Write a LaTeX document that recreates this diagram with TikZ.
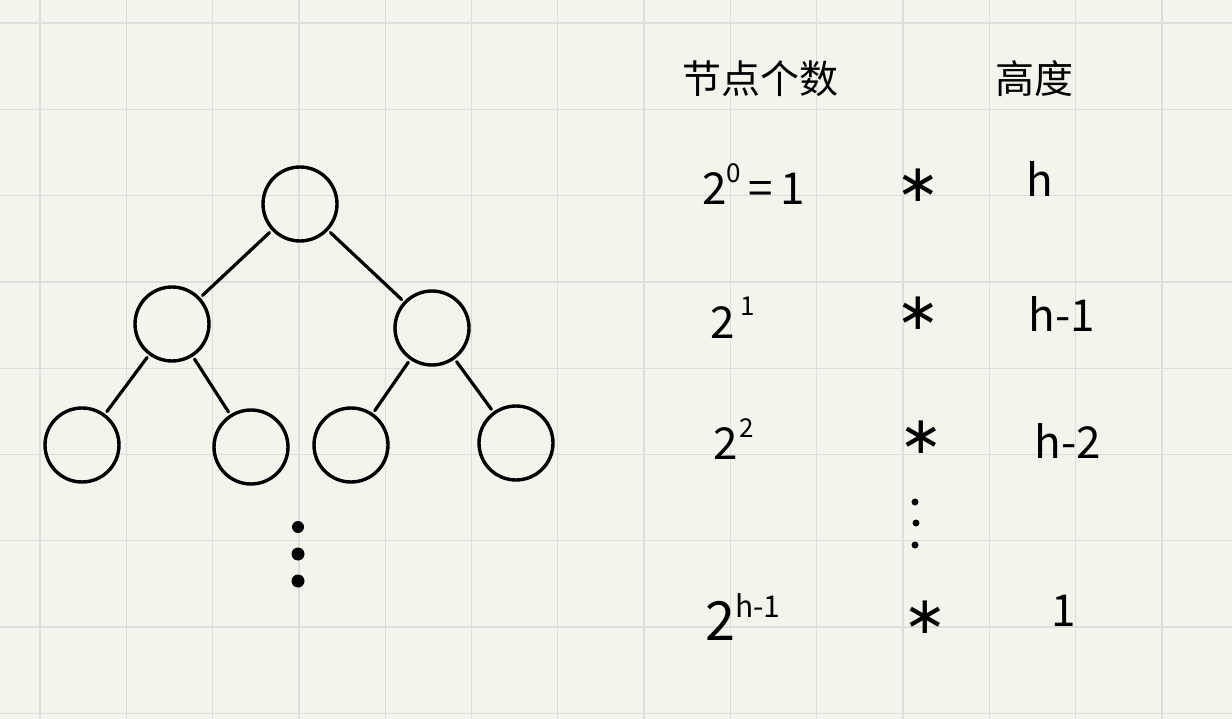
\documentclass[tikz,border=0pt]{standalone}
\usepackage{fontspec}
\setmainfont{Noto Sans CJK SC}
\newfontfamily\djv{DejaVu Sans}
\definecolor{paper}{RGB}{244,243,236}
\definecolor{gridc}{RGB}{221,221,219}
\tikzset{
  tnode/.style={circle,draw=black,line width=3.4pt,minimum size=74pt,inner sep=0pt},
  tedge/.style={line width=3.2pt,line cap=round,shorten <=3pt,shorten >=3pt},
  hw/.style={inner sep=0pt,anchor=base,font=\fontsize{44}{44}\selectfont},
  hdr/.style={inner sep=0pt,anchor=base,font=\fontsize{39}{39}\selectfont},
  star/.style={inner sep=0pt,font=\djv\fontsize{52}{52}\selectfont},
  dotc/.style={circle,fill=black,inner sep=0pt,minimum size=#1}
}
\newcommand{\sps}[1]{\raisebox{0.5em}{\fontsize{26}{26}\selectfont #1}}
\begin{document}
\begin{tikzpicture}[x=1pt,y=-1pt]
\fill[paper] (0,0) rectangle (1232,719);
\useasboundingbox (0,0) rectangle (1232,719);
% grid
\foreach \i in {0,...,13} {
  \draw[gridc,line width=1.3pt] ({40+86.3*\i},0) -- ({40+86.3*\i},719);
}
\foreach \j in {0,...,8} {
  \draw[gridc,line width=1.3pt] (0,{23+86.3*\j}) -- (1232,{23+86.3*\j});
}
% tree
\node[tnode] (r) at (300,204) {};
\node[tnode] (a) at (172,324) {};
\node[tnode] (b) at (432,328) {};
\node[tnode] (c) at (82,445) {};
\node[tnode] (d) at (251,447) {};
\node[tnode] (e) at (351,445) {};
\node[tnode] (f) at (516,443) {};
\draw[tedge] (r) -- (a);
\draw[tedge] (r) -- (b);
\draw[tedge] (a) -- (c);
\draw[tedge] (a) -- (d);
\draw[tedge] (b) -- (e);
\draw[tedge] (b) -- (f);
\node[dotc=12pt] (t1) at (298,527) {};
\node[dotc=13pt] (t2) at (298,554) {};
\node[dotc=13pt] (t3) at (298,581) {};
% headers
\node[hdr] (h1) at (760,94) {节点个数};
\node[hdr] (h2) at (1034,94) {高度};
% rows
\node[hw,anchor=base west] (n0) at (702,205) {2\sps{0}\,=\,1};
\node[star] (s0) at (918,185) {∗};
\node[hw] (g0) at (1040,197) {h};

\node[hw,anchor=base west] (n1) at (710,338) {2\hspace{6pt}\sps{1}};
\node[star] (s1) at (918,313) {∗};
\node[hw] (g1) at (1062,332) {h-1};

\node[hw,anchor=base west] (n2) at (713,459) {2\hspace{2pt}\sps{2}};
\node[star] (s2) at (921,437) {∗};
\node[hw] (g2) at (1068,458) {h-2};

\node[dotc=7pt] (v1) at (915,502) {};
\node[dotc=7pt] (v2) at (916,523) {};
\node[dotc=7pt] (v3) at (915,545) {};

\node[hw,anchor=base west,font=\fontsize{54}{54}\selectfont] (n3) at (705,640) {2\raisebox{0.42em}{\fontsize{30}{30}\selectfont h-1}};
\node[star] (s3) at (925,617) {∗};
\node[hw] (g3) at (1064,626) {1};
\end{tikzpicture}
\end{document}
